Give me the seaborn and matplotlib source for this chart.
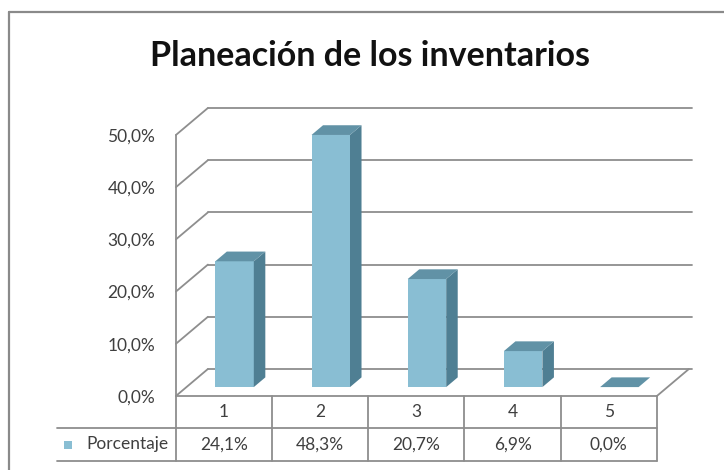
import matplotlib
matplotlib.use("Agg")
import matplotlib.pyplot as plt
import matplotlib.transforms as mtransforms
from matplotlib.patches import Polygon
from matplotlib.lines import Line2D
import seaborn as sns
import pandas as pd

# ---------------- data ----------------
categories = ["1", "2", "3", "4", "5"]
values = [24.1, 48.3, 20.7, 6.9, 0.0]
value_labels = ["24,1%", "48,3%", "20,7%", "6,9%", "0,0%"]
yticks = [0, 10, 20, 30, 40, 50]
ytick_labels = ["0,0%", "10,0%", "20,0%", "30,0%", "40,0%", "50,0%"]
series_name = "Porcentaje"
title = "Planeación de los inventarios"

# ---------------- style ----------------
FRONT = "#89BED3"
SIDE = "#4F7F93"
TOP = "#6192A6"
GRID = "#8E8E8E"
TEXT = "#3F3F3F"

sns.set_style("white")
plt.rcParams["font.family"] = ["Lato", "DejaVu Sans"]

W, H, DPI = 724, 470, 100
fig = plt.figure(figsize=(W / DPI, H / DPI), dpi=DPI)

# pixel geometry of the front plane (z = 0)
PX_X0, PX_PER_CAT = 224.0, 96.2      # category 0 centre, pixels per category
PX_Y0, PX_PER_PCT = 396.0, 5.22      # 0 % line, pixels per percent
left_px, right_px, top_px = 176, 692, 108
ax = fig.add_axes([left_px / W, (H - PX_Y0) / H,
                   (right_px - left_px) / W, (PX_Y0 - top_px) / H])

df = pd.DataFrame({"categoria": categories, "porcentaje": values})
sns.barplot(data=df, x="categoria", y="porcentaje", color=FRONT, width=0.4,
            saturation=1, linewidth=0, edgecolor="none", ax=ax, zorder=3)

ax.set_xlim((left_px - PX_X0) / PX_PER_CAT, (right_px - PX_X0) / PX_PER_CAT)
ax.set_ylim(0, (PX_Y0 - top_px) / PX_PER_PCT)

# depth of the 3-D box in data units
DX = 32 / PX_PER_CAT
DY = 27 / PX_PER_PCT
Z0, Z1 = 0.33, 0.69
xa, xb = -0.5, len(categories) - 0.5

shift = mtransforms.Affine2D().translate(Z0 * DX, Z0 * DY) + ax.transData
ddx, ddy = (Z1 - Z0) * DX, (Z1 - Z0) * DY
for p in list(ax.patches):
    x0, w, h = p.get_x(), p.get_width(), p.get_height()
    p.set_transform(shift)
    side = Polygon([(x0 + w, 0), (x0 + w, h), (x0 + w + ddx, h + ddy), (x0 + w + ddx, ddy)],
                   closed=True, facecolor=SIDE, edgecolor="none", transform=shift,
                   zorder=3, clip_on=False)
    top = Polygon([(x0, h), (x0 + w, h), (x0 + w + ddx, h + ddy), (x0 + ddx, h + ddy)],
                  closed=True, facecolor=TOP, edgecolor="none", transform=shift,
                  zorder=3, clip_on=False)
    ax.add_patch(side)
    ax.add_patch(top)
    p.set_clip_on(False)

# back wall gridlines + side wall diagonals
lw = 1.3
for v in yticks:
    ax.plot([xa + DX, xb + DX + 0.03], [v + DY, v + DY], color=GRID, lw=lw, zorder=1, clip_on=False)
    ax.plot([xa, xa + DX], [v, v + DY], color=GRID, lw=lw, zorder=1, clip_on=False)
# floor
ax.plot([xa, xb], [0, 0], color=GRID, lw=lw, zorder=1, clip_on=False)
ax.plot([xb, xb + DX], [0, DY], color=GRID, lw=lw, zorder=1, clip_on=False)

# data table
row1 = -(428 - PX_Y0) / PX_PER_PCT
row2 = -(461 - PX_Y0) / PX_PER_PCT
ax.plot([xa, xa], [yticks[-1], row2], color=GRID, lw=lw, zorder=1, clip_on=False)
for i in range(len(categories)):
    xr = i + 0.5
    ax.plot([xr, xr], [0, row2], color=GRID, lw=lw, zorder=1, clip_on=False)
hdr_left = (57 - PX_X0) / PX_PER_CAT
for yy in (row1, row2):
    ax.plot([hdr_left, xb], [yy, yy], color=GRID, lw=lw, zorder=1, clip_on=False)

fs = 12.5
for i, (c, lab) in enumerate(zip(categories, value_labels)):
    ax.text(i, row1 / 2, c, ha="center", va="center", fontsize=fs, color=TEXT, clip_on=False)
    ax.text(i, (row1 + row2) / 2, lab, ha="center", va="center", fontsize=fs, color=TEXT, clip_on=False)
ax.text(xa - 7 / PX_PER_CAT, (row1 + row2) / 2, series_name, ha="right", va="center",
        fontsize=fs, color=TEXT, clip_on=False)
ax.plot([(67.5 - PX_X0) / PX_PER_CAT], [(row1 + row2) / 2], marker="s", markersize=5.5,
        color=FRONT, markeredgewidth=0, clip_on=False)

# y axis
ax.set_yticks(yticks)
ax.set_yticklabels(ytick_labels)
ax.set_xticks([])
ax.set_xlabel("")
ax.set_ylabel("")
ax.tick_params(axis="y", length=0, pad=15, labelsize=fs, labelcolor=TEXT)
for s in ax.spines.values():
    s.set_visible(False)
ax.patch.set_alpha(0)

# title
fig.text(370 / W, 1 - 66 / H, title, ha="center", va="baseline", fontsize=24.5,
         fontweight="bold", color="#111111")

# chart frame
fig.add_artist(Line2D([8.5 / W, 8.5 / W], [0, 1 - 12 / H], transform=fig.transFigure,
                      color="#8A8A8A", lw=1.6))
fig.add_artist(Line2D([8.5 / W, 1], [1 - 12 / H, 1 - 12 / H], transform=fig.transFigure,
                      color="#8A8A8A", lw=1.6))

fig.savefig("out.png", dpi=DPI, facecolor="white")
